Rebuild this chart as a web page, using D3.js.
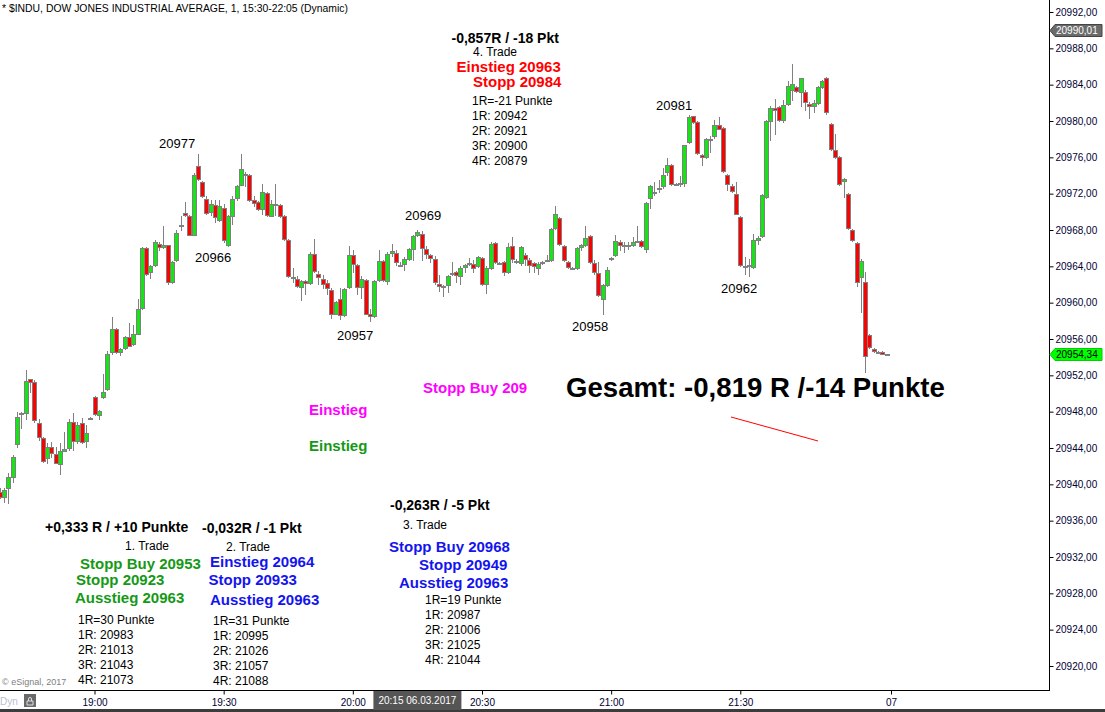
<!DOCTYPE html>
<html><head><meta charset="utf-8">
<script src="https://cdn.jsdelivr.net/npm/d3@7"></script>
<style>
body{margin:0;background:#fff;}
svg{display:block;font-family:Arial,"Liberation Sans",sans-serif;}
</style></head>
<body>
<svg id="chart" width="1105" height="712"></svg>
<script>
// ---------- DATA ----------
const title = "* $INDU, DOW JONES INDUSTRIAL AVERAGE, 1, 15:30-22:05 (Dynamic)";
const firstBar = "2017-03-06 18:38"; // 1-minute bars, consecutive
const opens = [20939.2,20938.6,20939.6,20940.8,20944.4,20947.8,20947.8,20951.6,20951.3,20946.8,
20945.1,20942.9,20944.1,20943.3,20942.2,20943.7,20944.0,20946.9,20944.8,20946.7,
20944.8,20947.3,20949.6,20947.6,20949.6,20950.5,20954.6,20957.1,20954.6,20955.0,
20956.2,20955.4,20956.6,20959.4,20966.0,20963.4,20964.1,20966.5,20966.1,20966.3,
20962.3,20964.7,20968.6,20969.9,20969.5,20967.5,20975.0,20973.3,20971.4,20970.0,
20970.8,20969.1,20970.4,20966.4,20969.5,20971.5,20973.0,20974.2,20974.1,20971.3,
20971.1,20970.3,20972.1,20969.5,20970.9,20970.8,20969.5,20966.9,20962.8,20962.6,
20961.7,20962.4,20962.2,20965.4,20963.2,20962.6,20962.2,20961.4,20958.8,20960.4,
20958.6,20961.7,20965.2,20964.2,20961.7,20962.5,20958.8,20958.5,20962.5,20964.6,
20962.4,20965.5,20965.5,20964.2,20964.3,20964.8,20965.9,20967.4,20967.6,20965.9,
20965.2,20964.8,20962.1,20961.8,20961.9,20963.2,20963.4,20962.9,20963.9,20964.3,
20964.3,20964.0,20964.9,20962.1,20963.8,20966.6,20964.4,20964.5,20963.4,20966.2,
20964.6,20964.4,20965.2,20964.7,20964.4,20963.8,20964.4,20964.7,20964.7,20968.2,
20969.3,20966.2,20964.5,20963.8,20963.8,20966.1,20966.4,20967.3,20964.4,20963.3,
20960.4,20961.9,20964.8,20965.2,20966.7,20966.4,20966.4,20966.3,20966.8,20966.8,
20965.9,20971.5,20972.1,20972.5,20972.8,20974.4,20975.2,20973.1,20973.1,20973.2,
20977.7,20980.5,20979.9,20976.3,20976.0,20978.0,20978.4,20979.6,20979.2,20974.1,
20972.8,20972.0,20969.4,20964.0,20964.1,20963.9,20966.9,20967.3,20971.6,20980.0,
20981.4,20981.5,20980.1,20981.9,20983.4,20983.7,20983.2,20983.2,20981.9,20981.6,
20982.0,20983.7,20984.7,20979.7,20976.8,20976.0,20973.4,20972.0,20968.0,20966.6,
20962.8,20962.3,20956.4,20954.9,20954.6,20954.6,20954.4];
const highs = [20939.6,20939.6,20941.2,20943.2,20948.0,20948.0,20952.6,20951.6,20951.5,20947.2,
20945.2,20944.5,20944.7,20944.1,20944.5,20945.8,20947.2,20947.8,20946.9,20947.3,
20946.5,20947.4,20949.7,20948.2,20952.2,20954.7,20958.4,20957.2,20955.0,20956.3,
20957.8,20957.5,20960.4,20966.1,20966.1,20964.1,20966.9,20966.7,20968.4,20966.4,
20964.6,20968.0,20969.5,20971.1,20969.6,20974.3,20976.4,20973.4,20971.7,20971.3,
20971.3,20971.3,20970.9,20969.6,20971.7,20972.9,20976.4,20974.4,20974.2,20971.7,
20971.2,20973.1,20972.2,20971.3,20973.1,20970.9,20969.6,20967.0,20963.8,20962.9,
20962.5,20962.5,20965.6,20967.0,20963.5,20963.0,20962.5,20961.6,20960.2,20961.6,
20961.6,20966.2,20965.8,20964.3,20962.9,20962.6,20959.3,20962.5,20965.8,20964.7,
20965.6,20966.5,20965.8,20964.5,20965.0,20966.0,20967.4,20968.0,20967.9,20966.2,
20965.4,20965.1,20963.0,20961.9,20963.0,20964.5,20963.5,20964.0,20964.3,20964.9,
20964.7,20965.1,20965.0,20964.0,20966.7,20966.7,20964.5,20964.6,20966.6,20967.2,
20964.8,20966.2,20965.5,20964.9,20964.5,20964.5,20964.6,20965.2,20968.2,20970.6,
20969.4,20966.3,20964.6,20963.9,20966.1,20966.5,20968.4,20967.4,20964.7,20964.5,
20962.1,20963.9,20965.0,20967.4,20966.9,20966.7,20966.7,20967.2,20968.4,20966.9,
20971.1,20972.9,20973.3,20973.5,20974.8,20975.9,20975.3,20973.2,20973.9,20977.4,
20980.7,20980.6,20980.0,20976.4,20978.1,20978.3,20980.1,20980.4,20979.3,20974.2,
20973.1,20973.3,20969.5,20965.0,20964.8,20967.6,20967.3,20972.0,20980.1,20981.6,
20982.4,20981.6,20982.3,20984.4,20986.3,20983.8,20984.7,20983.4,20982.1,20982.3,
20983.8,20984.5,20984.8,20979.8,20978.6,20976.1,20973.7,20972.1,20968.1,20966.7,
20964.8,20963.4,20956.5,20955.0,20954.7,20954.7,20954.4];
const lows = [20938.5,20938.1,20937.9,20940.3,20944.1,20946.2,20947.2,20950.2,20946.9,20944.9,
20942.5,20942.3,20943.0,20942.3,20941.1,20943.7,20943.8,20943.8,20944.5,20944.5,
20944.1,20947.2,20947.6,20947.2,20949.5,20950.4,20954.4,20954.5,20954.2,20954.9,
20955.2,20955.3,20956.5,20959.3,20963.0,20962.7,20964.0,20965.8,20966.0,20962.1,
20962.2,20964.6,20968.0,20969.5,20967.4,20967.4,20973.5,20971.6,20969.8,20969.7,
20968.9,20969.0,20966.7,20966.2,20968.7,20971.3,20972.9,20972.8,20971.2,20970.6,
20970.2,20969.8,20969.5,20969.5,20969.7,20969.4,20966.9,20962.8,20962.3,20961.7,
20960.3,20961.0,20962.1,20963.4,20962.1,20961.6,20961.0,20958.3,20958.7,20958.2,
20958.5,20961.6,20963.4,20961.0,20960.5,20958.7,20958.0,20958.4,20962.4,20962.4,
20962.1,20965.1,20964.1,20964.0,20963.6,20964.7,20964.7,20967.3,20964.7,20964.9,
20964.5,20962.1,20961.3,20960.7,20961.2,20963.0,20962.3,20962.1,20963.4,20964.1,
20963.4,20963.9,20962.0,20961.1,20963.7,20964.4,20964.3,20963.0,20963.3,20964.5,
20964.4,20964.1,20964.1,20963.4,20963.4,20963.2,20964.3,20964.6,20964.6,20968.1,
20966.4,20964.6,20963.8,20963.7,20963.7,20965.8,20966.2,20964.4,20963.2,20960.7,
20958.8,20961.8,20964.7,20965.1,20965.8,20965.6,20965.9,20966.2,20966.7,20966.1,
20965.6,20970.4,20971.8,20972.2,20972.6,20974.1,20973.0,20972.9,20972.8,20972.8,
20977.6,20979.8,20976.4,20975.2,20975.9,20976.6,20978.1,20979.1,20974.4,20972.4,
20972.2,20969.8,20964.0,20963.2,20962.9,20963.8,20966.5,20967.2,20971.5,20977.9,
20978.6,20980.0,20979.9,20981.8,20982.3,20983.2,20981.6,20981.2,20980.3,20981.0,
20981.9,20983.6,20980.8,20976.8,20975.9,20972.9,20971.6,20968.1,20966.8,20961.8,
20959.0,20952.4,20955.0,20954.6,20954.5,20954.3,20954.3];
const closes = [20938.6,20939.4,20940.8,20943.0,20947.4,20947.7,20951.4,20951.3,20947.1,20945.2,
20942.6,20944.1,20943.4,20942.3,20943.7,20943.9,20946.9,20944.8,20946.5,20944.7,
20945.6,20947.3,20947.7,20948.1,20950.2,20954.4,20957.1,20954.6,20954.9,20956.2,
20955.2,20956.6,20959.3,20966.0,20963.2,20964.0,20966.7,20966.1,20966.3,20962.3,
20964.5,20967.7,20968.6,20969.7,20967.5,20974.1,20973.6,20971.7,20969.9,20970.9,
20969.4,20970.6,20966.9,20969.5,20971.4,20972.8,20974.7,20974.1,20971.3,20971.0,
20970.3,20972.2,20969.7,20970.9,20970.9,20969.5,20967.0,20962.9,20962.8,20961.8,
20962.4,20962.2,20965.4,20963.5,20962.8,20962.1,20961.6,20958.8,20960.1,20958.6,
20961.5,20965.3,20964.3,20961.7,20962.6,20958.8,20958.5,20962.4,20964.6,20962.5,
20965.4,20965.7,20964.5,20964.2,20964.8,20965.9,20967.3,20967.8,20966.0,20965.4,
20964.9,20962.3,20961.8,20961.7,20962.9,20963.3,20963.0,20963.8,20964.1,20964.4,
20963.8,20965.0,20962.1,20963.8,20966.5,20964.5,20964.4,20963.4,20966.1,20964.8,
20964.6,20966.1,20964.8,20964.1,20964.0,20964.3,20964.5,20964.7,20968.1,20969.8,
20966.5,20964.7,20963.9,20963.8,20966.0,20966.3,20967.1,20964.5,20963.4,20960.8,
20961.9,20963.6,20964.9,20966.8,20966.3,20966.4,20966.4,20966.7,20966.8,20966.2,
20971.0,20972.8,20972.2,20972.6,20974.1,20975.2,20973.1,20973.0,20973.2,20977.4,
20980.4,20979.9,20976.5,20976.0,20978.0,20978.0,20979.6,20979.1,20974.5,20973.1,
20972.3,20969.8,20964.1,20963.9,20964.1,20966.9,20967.1,20971.9,20980.0,20981.4,
20981.2,20980.1,20981.8,20983.8,20984.1,20983.3,20984.7,20982.1,20981.6,20982.0,
20983.7,20984.4,20981.0,20976.9,20976.0,20973.1,20973.6,20968.2,20966.9,20962.3,
20964.6,20954.1,20955.1,20954.7,20954.6,20954.4,20954.34];

const priceTicks = [20920,20924,20928,20932,20936,20940,20944,20948,20952,20956,
  20960,20964,20968,20972,20976,20980,20984,20988,20992];
const timeTicks = ["19:00","19:30","20:00","20:30","21:00","21:30","22:05"];
const timeTickLabels = ["19:00","19:30","20:00","20:30","21:00","21:30","07"];
const lastPrice = 20954.34;
const cursorPrice = 20990.01;
const cursorTime = "20:15";
const cursorDateLabel = "20:15 06.03.2017";

// swing-point labels
const swingTexts = ["20977","20966","20957","20969","20958","20981","20962"];
// trade notes
const trade1 = {head:"+0,333 R / +10 Punkte", name:"1. Trade", lines:["Stopp Buy 20953","Stopp 20923","Ausstieg 20963"], r:["1R=30 Punkte","1R: 20983","2R: 21013","3R: 21043","4R: 21073"]};
const trade2 = {head:"-0,032R / -1 Pkt", name:"2. Trade", lines:["Einstieg 20964","Stopp 20933","Ausstieg 20963"], r:["1R=31 Punkte","1R: 20995","2R: 21026","3R: 21057","4R: 21088"]};
const trade3 = {head:"-0,263R / -5 Pkt", name:"3. Trade", lines:["Stopp Buy 20968","Stopp 20949","Ausstieg 20963"], r:["1R=19 Punkte","1R: 20987","2R: 21006","3R: 21025","4R: 21044"]};
const trade4 = {head:"-0,857R / -18 Pkt", name:"4. Trade", lines:["Einstieg 20963","Stopp 20984"], r:["1R=-21 Punkte","1R: 20942","2R: 20921","3R: 20900","4R: 20879"]};
const totalText = "Gesamt: -0,819 R /-14 Punkte";

// ---------- LAYOUT ----------
const W = 1105, H = 712;
const plotRight = 1049, plotBottom = 690;
const GREEN = "#14e614", RED = "#ff0000", OUTLINE = "#808080";
const TXT_GREEN = "#159915", TXT_BLUE = "#1414ee", TXT_RED = "#ff0000", TXT_MAG = "#ff00ff";
const AXIS_COL = "#000033";

const parseT = d3.timeParse("%Y-%m-%d %H:%M");
const day = "2017-03-06 ";
const x = d3.scaleTime()
  .domain([parseT(day + "19:00"), parseT(day + "22:05")])
  .range([94.5, 891]);
const y = d3.scaleLinear().domain([20920, 20992]).range([666, 12]);

const svg = d3.select("#chart");
svg.append("rect").attr("width", W).attr("height", H).attr("fill", "#fff");

const start = parseT(firstBar);
const idx = d3.range(opens.length);
const times = idx.map(i => d3.timeMinute.offset(start, i));
const cx = i => Math.round(x(times[i]));

// candles
const cg = svg.append("g");
cg.selectAll("line.wick").data(idx).join("line")
  .attr("class", "wick")
  .attr("x1", i => cx(i) + 0.5).attr("x2", i => cx(i) + 0.5)
  .attr("y1", i => Math.round(y(highs[i])))
  .attr("y2", i => Math.round(y(lows[i])) + 1)
  .attr("stroke", OUTLINE).attr("stroke-width", 1);
cg.selectAll("rect.body").data(idx).join("rect")
  .attr("class", "body")
  .attr("x", i => cx(i) - 1.5)
  .attr("width", 4)
  .attr("y", i => Math.round(y(Math.max(opens[i], closes[i]))) + 0.5)
  .attr("height", i => Math.max(1, Math.round(y(Math.min(opens[i], closes[i]))) - Math.round(y(Math.max(opens[i], closes[i])))))
  .attr("fill", i => closes[i] > opens[i] ? GREEN : (closes[i] < opens[i] ? RED : OUTLINE))
  .attr("stroke", OUTLINE).attr("stroke-width", 1);

// title
svg.append("text").attr("x", 2).attr("y", 12).attr("font-size", 10.4).attr("fill", "#000").text(title);

// right axis
const yAxis = d3.axisRight(y).tickValues(priceTicks).tickSize(4).tickPadding(2)
  .tickFormat(d => d.toFixed(2).replace(".", ","));
const ya = svg.append("g").attr("transform", `translate(${plotRight + 0.5},0)`).call(yAxis);
ya.select(".domain").remove();
ya.selectAll("line").attr("stroke", "#000");
ya.selectAll("text").attr("font-size", 10).attr("fill", AXIS_COL).attr("font-family", "Arial, 'Liberation Sans', sans-serif");

// bottom axis
const xAxis = d3.axisBottom(x).tickValues(timeTicks.map(t => parseT(day + t))).tickSize(4).tickPadding(4)
  .tickFormat((d, i) => timeTickLabels[i]);
const xa = svg.append("g").attr("transform", `translate(0,${plotBottom + 0.5})`).call(xAxis);
xa.select(".domain").remove();
xa.selectAll("line").attr("stroke", "#000");
xa.selectAll("text").attr("font-size", 10).attr("fill", AXIS_COL).attr("font-family", "Arial, 'Liberation Sans', sans-serif");

// frame lines
svg.append("line").attr("x1", 0).attr("x2", plotRight + 1).attr("y1", plotBottom + 0.5).attr("y2", plotBottom + 0.5).attr("stroke", "#000");
svg.append("line").attr("x1", plotRight + 0.5).attr("x2", plotRight + 0.5).attr("y1", 0).attr("y2", plotBottom + 1).attr("stroke", "#000");
svg.append("rect").attr("x", 0).attr("y", 709).attr("width", W).attr("height", 3).attr("fill", "#3c3c3c");

// price tags
function priceTag(price, bg, fg) {
  const yy = Math.round(y(price)) + 0.5;
  const g = svg.append("g");
  g.append("path")
    .attr("d", `M${plotRight + 1},${yy} L${plotRight + 6},${yy - 6} L${plotRight + 53},${yy - 6} L${plotRight + 53},${yy + 6} L${plotRight + 6},${yy + 6} Z`)
    .attr("fill", bg).attr("stroke", bg === "#00ff00" ? "#00d000" : "#444");
  g.append("text").attr("x", plotRight + 7).attr("y", yy + 3.5).attr("font-size", 10)
    .attr("fill", fg).text(price.toFixed(2).replace(".", ","));
}
priceTag(cursorPrice, "#6b6b6b", "#fff");
priceTag(lastPrice, "#00ff00", "#000");

// cursor time box
const ctx = x(parseT(day + cursorTime));
svg.append("rect").attr("x", ctx - 44).attr("y", 691).attr("width", 88).attr("height", 19).attr("fill", "#555");
svg.append("text").attr("x", ctx).attr("y", 704).attr("text-anchor", "middle").attr("font-size", 10)
  .attr("fill", "#fff").text(cursorDateLabel);

// Dyn + lock icon + copyright
svg.append("text").attr("x", 0).attr("y", 705).attr("font-size", 10).attr("fill", "#b8c0d0").text("Dyn");
svg.append("rect").attr("x", 24).attr("y", 694).attr("width", 12).attr("height", 13).attr("fill", "#6a6a6a");
svg.append("path").attr("d", "M27,701 h6 v4 h-6 Z M28.5,701 v-2 a1.5,1.5 0 0 1 3,0 v2").attr("fill", "none").attr("stroke", "#ddd");
svg.append("text").attr("x", 2).attr("y", 685).attr("font-size", 9).attr("fill", "#808080").text("\u00a9 eSignal, 2017");

// swing labels
const swingPos = [[159,148],[195,262],[337,340],[405,220],[572,331],[656,110],[721,293]];
swingTexts.forEach((t, i) => {
  svg.append("text").attr("x", swingPos[i][0]).attr("y", swingPos[i][1]).attr("font-size", 13).attr("fill", "#000").text(t);
});

function txt(x0, y0, s, size, color, bold) {
  svg.append("text").attr("x", x0).attr("y", y0).attr("font-size", size)
    .attr("font-weight", bold ? "bold" : "normal").attr("fill", color).text(s);
}
function block(tr, color, pos) {
  txt(pos.head[0], pos.head[1], tr.head, 14, "#000", true);
  txt(pos.name[0], pos.name[1], tr.name, 12, "#000", false);
  tr.lines.forEach((s, i) => txt(pos.lines[i][0], pos.lines[i][1], s, 15, color, true));
  tr.r.forEach((s, i) => txt(pos.r[0], pos.r[1] + i * 15, s, 12, "#000", false));
}
block(trade1, TXT_GREEN, {head:[45,532], name:[125,550], lines:[[80,569],[76,584.5],[75,602.5]], r:[78,623.5]});
block(trade2, TXT_BLUE, {head:[202,533], name:[226,551], lines:[[210,567],[208.5,584.5],[210,604.5]], r:[213,624.5]});
block(trade3, TXT_BLUE, {head:[390,510], name:[403,529], lines:[[389,551.5],[419,569.5],[399,587.5]], r:[425,604]});
block(trade4, TXT_RED, {head:[451.5,42.5], name:[473,56], lines:[[456.5,71.5],[473,87]], r:[472,104.5]});

txt(423, 393, "Stopp Buy 209", 15, TXT_MAG, true);
txt(309, 415, "Einstieg", 15, TXT_MAG, true);
txt(309, 451, "Einstieg", 15, TXT_GREEN, true);
txt(566, 397, totalText, 27.6, "#000", true);
svg.append("line").attr("x1", 731).attr("y1", 417).attr("x2", 818).attr("y2", 441).attr("stroke", "#ff0000").attr("stroke-width", 1);
</script>
</body></html>
